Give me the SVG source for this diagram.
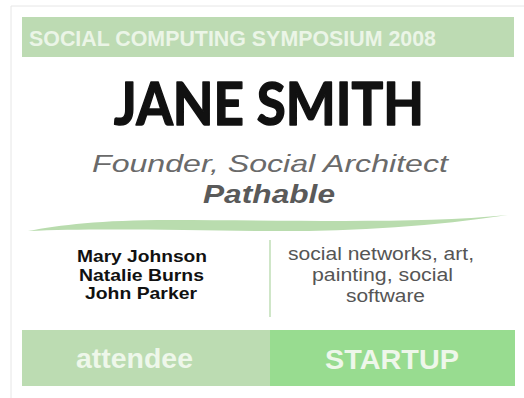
<svg xmlns="http://www.w3.org/2000/svg" width="524" height="398" viewBox="0 0 524 398">
<style>
.sans{font-family:"Liberation Sans",Arial,sans-serif}
.hdr{font-size:21.5px;font-weight:700;fill:#ebf5e7}
.name{font-family:Lato,"Open Sans",sans-serif;font-size:60px;font-weight:700;fill:#111;stroke:#111;stroke-width:1.6px;stroke-linejoin:round}
.title{font-size:24px;font-style:italic;fill:#6a6a6a}
.org{font-size:25px;font-style:italic;font-weight:700;fill:#5a5a5a}
.ppl{font-size:17px;font-weight:700;fill:#111}
.int{font-size:17.5px;fill:#555}
.foot{font-size:28px;font-weight:700;fill:#eef7ea}
</style>
<rect width="524" height="398" fill="#fff"/>
<path d="M11,398 V6 H524" fill="none" stroke="#e6e6e6" stroke-width="1"/>
<g id="header">
<rect x="22" y="17" width="492" height="40" fill="#bddbb3"/>
<text class="sans hdr" x="29" y="46" textLength="407" lengthAdjust="spacingAndGlyphs">SOCIAL COMPUTING SYMPOSIUM 2008</text>
</g>
<g id="name">
<text class="name" x="114" y="125" textLength="310" lengthAdjust="spacingAndGlyphs">JANE SMITH</text>
</g>
<g id="role">
<text class="sans title" x="92" y="172" textLength="356" lengthAdjust="spacingAndGlyphs">Founder, Social Architect</text>
<text class="sans org" x="203" y="203" textLength="132" lengthAdjust="spacingAndGlyphs">Pathable</text>
</g>
<g id="swoosh">
<path d="M28,231 C60,225 100,220 170,220 C300,220 420,224 508,215 C430,227 340,232 260,231 C180,230 90,228 28,231 Z" fill="#b9dcae"/>
</g>
<g id="divider">
<line x1="270" y1="240" x2="270" y2="317" stroke="#cfe6c8" stroke-width="2"/>
</g>
<g id="people">
<text class="sans ppl" x="77" y="262" textLength="130" lengthAdjust="spacingAndGlyphs">Mary Johnson</text>
<text class="sans ppl" x="79" y="281" textLength="125" lengthAdjust="spacingAndGlyphs">Natalie Burns</text>
<text class="sans ppl" x="85" y="299" textLength="112" lengthAdjust="spacingAndGlyphs">John Parker</text>
</g>
<g id="interests">
<text class="sans int" x="288" y="260" textLength="186" lengthAdjust="spacingAndGlyphs">social networks, art,</text>
<text class="sans int" x="312" y="281" textLength="141" lengthAdjust="spacingAndGlyphs">painting, social</text>
<text class="sans int" x="346" y="302" textLength="79" lengthAdjust="spacingAndGlyphs">software</text>
</g>
<g id="attendee">
<rect x="22" y="330" width="248" height="56" fill="#bcdcb2"/>
<text class="sans foot" x="76" y="368" textLength="117" lengthAdjust="spacingAndGlyphs">attendee</text>
</g>
<g id="startup">
<rect x="270" y="330" width="245" height="56" fill="#98dc90"/>
<text class="sans foot" x="325" y="369" textLength="134" lengthAdjust="spacingAndGlyphs">STARTUP</text>
</g>
</svg>
